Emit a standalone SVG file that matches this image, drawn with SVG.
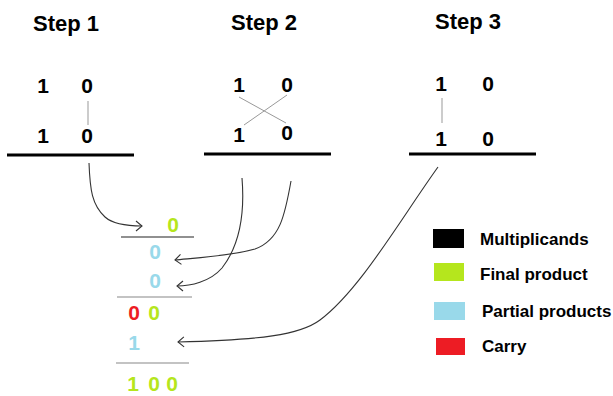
<svg xmlns="http://www.w3.org/2000/svg" width="613" height="396" viewBox="0 0 613 396">
  <style>
    .title { font-family: "Liberation Sans", Arial, sans-serif; font-weight: bold; font-size: 22px; fill: #000; }
    .digit { font-family: "Liberation Sans", Arial, sans-serif; font-weight: bold; font-size: 21px; text-anchor: middle; }
    .legend { font-family: "Liberation Sans", Arial, sans-serif; font-weight: bold; font-size: 17px; fill: #000; }
    .k { fill: #000; }
    .g { fill: #b5e61d; }
    .b { fill: #99d9ea; }
    .r { fill: #ed1c24; }
    .bar { stroke: #000; stroke-width: 3; }
    .link { stroke: #999; stroke-width: 1; fill: none; }
    .rule { stroke-width: 1.2; }
    .conn { stroke: #333; stroke-width: 1.1; fill: none; marker-end: url(#chev); }
  </style>
  <defs>
    <marker id="chev" viewBox="-9 -7 11 14" markerWidth="11" markerHeight="14" refX="0" refY="0" orient="auto" markerUnits="userSpaceOnUse">
      <path d="M-6,-5 L0,0 L-6,5" fill="none" stroke="#333" stroke-width="1.1"/>
    </marker>
  </defs>
  <rect width="613" height="396" fill="#fff"/>

  <!-- Step 1: units digits -->
  <g id="step1">
    <text class="title" x="33" y="31">Step 1</text>
    <text class="digit k" x="43" y="93">1</text>
    <text class="digit k" x="87" y="93">0</text>
    <text class="digit k" x="43" y="143">1</text>
    <text class="digit k" x="87" y="143">0</text>
    <line class="link" x1="88" y1="101" x2="88" y2="125"/>
    <line class="bar" x1="7" y1="155" x2="134" y2="155"/>
  </g>

  <!-- Step 2: cross products -->
  <g id="step2">
    <text class="title" x="231" y="30">Step 2</text>
    <text class="digit k" x="239" y="92">1</text>
    <text class="digit k" x="287" y="92">0</text>
    <text class="digit k" x="239" y="142">1</text>
    <text class="digit k" x="287" y="140">0</text>
    <line class="link" x1="239" y1="97" x2="286" y2="123"/>
    <line class="link" x1="287" y1="95" x2="244" y2="125"/>
    <line class="bar" x1="204" y1="154" x2="331" y2="154"/>
  </g>

  <!-- Step 3: tens digits -->
  <g id="step3">
    <text class="title" x="435" y="29">Step 3</text>
    <text class="digit k" x="441" y="91">1</text>
    <text class="digit k" x="488" y="91">0</text>
    <text class="digit k" x="441" y="146">1</text>
    <text class="digit k" x="488" y="146">0</text>
    <line class="link" x1="442" y1="98" x2="442" y2="123"/>
    <line class="bar" x1="409" y1="154" x2="536" y2="154"/>
  </g>

  <!-- Column sum -->
  <g id="sum">
    <text class="digit g" x="173" y="232">0</text>
    <line class="rule" stroke="#222" x1="121" y1="237" x2="194" y2="237"/>
    <text class="digit b" x="155" y="259">0</text>
    <text class="digit b" x="155" y="288">0</text>
    <line class="rule" stroke="#888" x1="117" y1="297" x2="192" y2="297"/>
    <text class="digit r" x="134" y="320">0</text>
    <text class="digit g" x="154" y="320">0</text>
    <text class="digit b" x="134" y="350">1</text>
    <line class="rule" stroke="#888" x1="116" y1="363" x2="189" y2="363"/>
    <text class="digit g" x="133" y="391">1</text>
    <text class="digit g" x="154" y="391">0</text>
    <text class="digit g" x="172" y="391">0</text>
  </g>

  <!-- Connectors from each step to its result -->
  <g id="connectors">
    <path class="conn" d="M89,163 C90,190 92,205 105,217 Q115,226 142,226"/>
    <path class="conn" d="M291,181 C285,215 280,240 255,249 C230,256 195,258 175,260"/>
    <path class="conn" d="M242,178 C245,215 240,245 222,268 C210,282 190,286 177,286"/>
    <path class="conn" d="M438,167 C400,220 360,290 320,320 C300,335 260,340 178,342"/>
  </g>

  <!-- Legend -->
  <g id="legend">
    <rect x="433" y="229" width="31" height="19" fill="#000"/>
    <text class="legend" x="480" y="245">Multiplicands</text>
    <rect x="434" y="263" width="30" height="18" fill="#b5e61d"/>
    <text class="legend" x="480" y="280">Final product</text>
    <rect x="434" y="302" width="31" height="18" fill="#99d9ea"/>
    <text class="legend" x="482" y="317">Partial products</text>
    <rect x="436" y="338" width="29" height="17" fill="#ed1c24"/>
    <text class="legend" x="482" y="352">Carry</text>
  </g>
</svg>
